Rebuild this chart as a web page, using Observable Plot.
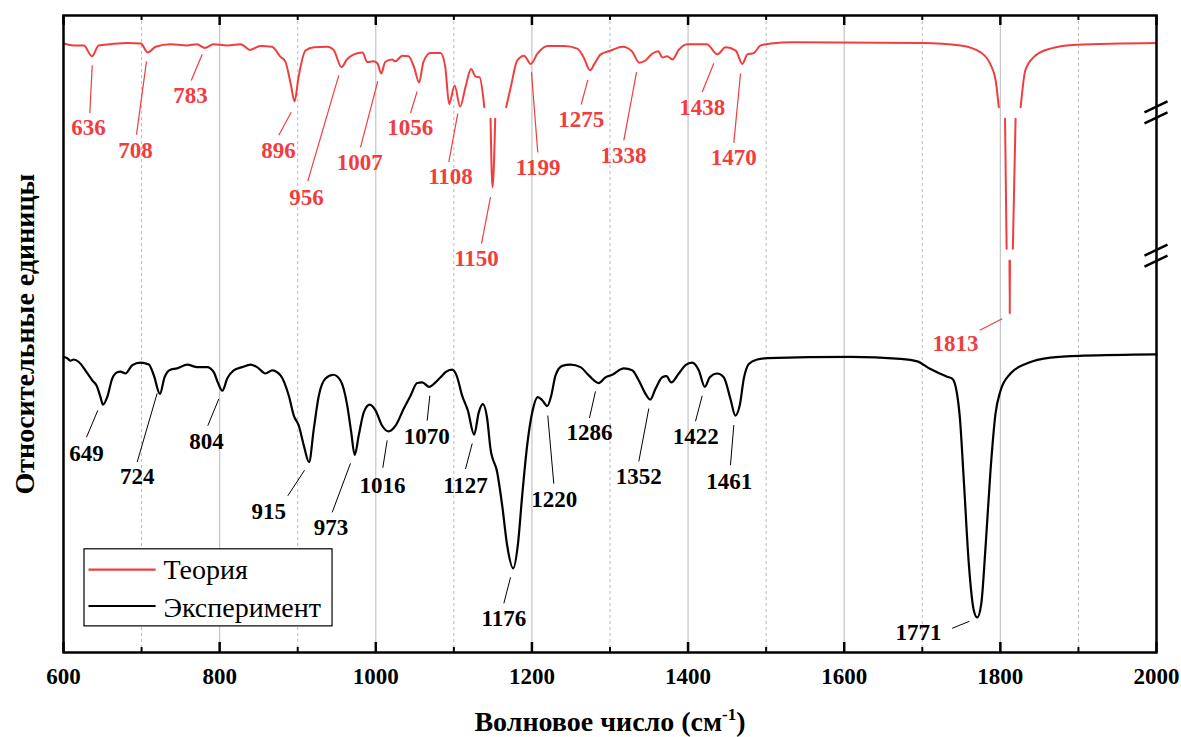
<!DOCTYPE html>
<html>
<head>
<meta charset="utf-8">
<script src="https://cdn.jsdelivr.net/npm/d3@7"></script>
<script src="https://cdn.jsdelivr.net/npm/@observablehq/plot@0.6"></script>
<style>
  html, body { margin: 0; padding: 0; background: #fff; }
  #chart { width: 1181px; height: 737px; }
  #chart svg, #chart svg text { font-family: "Liberation Serif", "Times New Roman", serif !important; }
</style>
</head>
<body>
<div id="chart"></div>
<script>
// ---------------- DATA ----------------
const seriesNames = ["Теория", "Эксперимент"];
const xTitle = "Волновое число (см-1)";
const yTitle = "Относительные единицы";
const xTickValues = [600, 800, 1000, 1200, 1400, 1600, 1800, 2000];
const xMinorValues = [700, 900, 1100, 1300, 1500, 1700, 1900];

// Theory spectrum (wavenumber, relative units). null = axis-break gap.
const theoryWn = [
  600, 613, 626, 636.5, 645, 660, 682, 699, 708, 718,
  737, 758, 771, 781, 792, 810, 827, 839, 852, 867,
  878, 884, 891, 896, 901, 910, 921, 938, 946, 956,
  963, 972, 983, 989, 997, 1002, 1007, 1012, 1021, 1025,
  1034, 1042, 1049, 1055.5, 1061, 1070, 1083, 1089, 1094, 1101,
  1108, 1115, 1122, 1128, 1133, 1139, 1143, 1147, 1149.5, 1153,
  1160, 1167, 1173, 1181, 1190, 1198.5, 1207, 1220, 1241, 1258,
  1266, 1274.5, 1280, 1288, 1301, 1316, 1328, 1337.5, 1345, 1354,
  1362, 1367, 1373, 1380, 1388, 1399, 1424, 1437.5, 1448, 1461,
  1469.5, 1476, 1484, 1493, 1506, 1535, 1700, 1749, 1775, 1787,
  1794, 1798, 1802, 1806, 1808, 1810, 1811.7, 1812, 1812.3, 1814,
  1816, 1819.5, 1823, 1826, 1832, 1843, 1864, 1898, 2000
];
const theoryVal = [
  95.6, 95.3, 95.3, 93.6, 95.3, 95.5, 95.7, 95.6, 94.2, 95.1,
  95.5, 95.3, 95.5, 94.9, 95.5, 95.3, 95.5, 94.6, 95.2, 95.1,
  93.5, 92.8, 89.3, 86.5, 90.3, 94.5, 95.0, 95.1, 94.6, 91.9,
  93.1, 93.9, 94.2, 92.7, 92.8, 92.5, 90.9, 92.7, 93.1, 92.8,
  93.7, 93.6, 91.9, 89.5, 92.7, 94.1, 94.1, 91.9, 86.1, 89.0,
  85.7, 88.8, 91.6, 90.4, 90.3, 85.6, null, 83.8, 73.0, 83.8,
  null, 85.6, 88.8, 92.9, 93.7, 92.4, 94.0, 95.2, 95.2, 94.8,
  93.5, 91.4, 92.4, 93.9, 94.5, 95.1, 94.4, 92.6, 92.9, 94.0,
  94.4, 93.4, 93.6, 93.1, 94.6, 95.5, 95.5, 93.9, 95.0, 94.5,
  92.4, 93.9, 94.1, 95.3, 95.6, 95.8, 95.7, 95.3, 94.2, 92.4,
  89.8, 85.6, null, 83.8, 63.4, null, 61.5, 53.2, 61.5, null,
  63.4, 83.8, null, 85.6, 91.4, 93.5, 94.8, 95.4, 95.7
];

// Experimental spectrum
const expWn = [
  600, 604.7, 609, 613, 619.6, 628, 637, 642.3, 647.4, 650.5,
  656, 662.4, 668.8, 673, 679.4, 688, 698.6, 709.3, 715.7, 723.5,
  729.4, 737, 745.6, 758.4, 771.3, 784, 792.5, 797.6, 803.5, 809.7,
  818, 829, 839.5, 848, 858.7, 867.3, 878, 888.6, 895, 901.4,
  907.8, 914.5, 920.6, 927, 935.6, 945.5, 954.8, 963.4, 968.5, 973,
  978.2, 984.6, 992.3, 999.6, 1008.2, 1016.5, 1025.3, 1035.9, 1044.5, 1053,
  1059.5, 1068.5, 1076.5, 1083, 1089.3, 1097.9, 1103.4, 1110.7, 1117.9, 1126,
  1131.9, 1137.1, 1142.7, 1146.9, 1155.5, 1161.9, 1168.3, 1176, 1181.9, 1187.5,
  1193.9, 1200.4, 1207.5, 1213.2, 1219.6, 1224.7, 1230.2, 1238.8, 1249.4, 1262.2,
  1272.8, 1285.6, 1294.2, 1302.8, 1317.7, 1328.4, 1336.9, 1345.5, 1351.5, 1358.3,
  1366.9, 1372.4, 1378.4, 1388.1, 1396.7, 1405.3, 1413.7, 1421.5, 1427.8, 1437.3,
  1445.7, 1454.3, 1460.5, 1466.2, 1471.4, 1477.8, 1488.5, 1501.4, 1608, 1672,
  1693.5, 1710.5, 1731.9, 1738.3, 1743.8, 1748.1, 1753.2, 1759.6, 1766, 1770.4,
  1775.5, 1781, 1787.4, 1793.8, 1800.2, 1813, 1834.4, 1864.2, 1906.9, 2000
];
const expVal = [
  46.4, 46.2, 45.8, 46.0, 45.6, 44.3, 42.7, 41.9, 40.1, 38.9,
  40.1, 43.0, 44.0, 44.1, 43.8, 45.1, 45.5, 45.2, 43.5, 40.6,
  43.2, 44.4, 44.6, 45.2, 44.8, 44.8, 44.0, 42.4, 41.1, 43.0,
  44.3, 44.8, 45.2, 44.8, 43.8, 44.3, 43.5, 40.3, 37.2, 35.6,
  32.5, 29.9, 35.1, 40.3, 43.0, 43.6, 42.7, 38.8, 34.6, 31.0,
  34.1, 37.7, 38.9, 38.0, 35.6, 34.7, 35.6, 38.3, 40.3, 42.3,
  42.4, 41.7, 42.4, 43.2, 44.0, 44.4, 43.5, 40.3, 38.0, 34.2,
  37.7, 39.0, 36.7, 32.0, 28.3, 23.1, 16.8, 13.2, 16.8, 24.6,
  32.5, 37.7, 40.1, 39.6, 38.7, 40.3, 43.5, 45.0, 45.2, 44.8,
  43.5, 42.3, 43.2, 43.6, 44.6, 44.3, 42.7, 40.6, 39.7, 41.4,
  43.2, 43.4, 42.4, 43.8, 45.1, 45.5, 44.3, 41.7, 43.2, 43.8,
  43.2, 39.8, 37.2, 38.8, 43.0, 45.3, 46.0, 46.2, 46.4, 46.1,
  45.7, 44.5, 43.3, 43.0, 41.1, 36.9, 27.0, 13.9, 6.6, 5.5,
  7.6, 16.5, 28.6, 37.5, 41.1, 43.8, 45.4, 46.3, 46.6, 46.8
];

// Peak labels
const theoryPeakLabels = [636, 708, 783, 896, 956, 1007, 1056, 1108, 1150, 1199, 1275, 1338, 1438, 1470, 1813];
const expPeakLabels = [649, 724, 804, 915, 973, 1016, 1070, 1127, 1176, 1220, 1286, 1352, 1422, 1461, 1771];

// ---------------- LAYOUT (annotation placement in data units) ----------------
// [textX, textY, leaderX1, leaderY1, leaderX2, leaderY2]
const theoryLabelLayout = [
  [632.0, 81.2, 636.8, 92.2, 633.7, 84.7],
  [692.2, 77.6, 706.3, 92.8, 693.5, 81.3],
  [762.7, 86.2, 777.7, 93.9, 763.6, 89.8],
  [875.4, 77.6, 891.7, 84.8, 875.8, 81.2],
  [911.3, 70.3, 952.6, 90.6, 912.9, 74.0],
  [979.5, 75.8, 1002.6, 89.7, 980.4, 79.3],
  [1044.1, 81.2, 1053.0, 88.1, 1044.5, 84.7],
  [1095.7, 73.5, 1105.0, 84.6, 1093.5, 77.0],
  [1129.0, 60.6, 1146.9, 71.5, 1135.4, 64.2],
  [1207.8, 74.9, 1199.4, 91.1, 1207.5, 78.5],
  [1263.2, 82.5, 1271.6, 89.9, 1263.1, 86.0],
  [1317.3, 76.8, 1334.0, 91.1, 1317.7, 80.4],
  [1418.1, 84.4, 1433.0, 92.5, 1418.1, 88.0],
  [1458.6, 76.5, 1467.2, 90.9, 1458.6, 80.0],
  [1742.5, 47.4, 1802.3, 52.4, 1773.6, 50.6]
];
const expLabelLayout = [
  [629.5, 30.1, 643.9, 38.0, 629.5, 33.8],
  [694.4, 26.5, 720.0, 40.7, 694.4, 29.9],
  [783.2, 32.0, 798.9, 39.8, 784.8, 35.6],
  [863.0, 21.0, 908.7, 28.6, 887.3, 24.6],
  [942.6, 18.4, 967.6, 29.7, 944.2, 22.0],
  [1008.6, 25.1, 1014.6, 33.3, 1009.0, 29.0],
  [1065.3, 32.8, 1069.2, 40.3, 1065.8, 36.4],
  [1114.9, 25.1, 1123.5, 32.8, 1114.9, 28.8],
  [1164.0, 4.2, 1172.6, 11.8, 1164.0, 7.7],
  [1228.7, 22.9, 1220.3, 37.2, 1228.0, 26.5],
  [1273.7, 33.3, 1281.4, 41.0, 1273.7, 36.8],
  [1336.9, 26.5, 1349.7, 38.3, 1336.9, 30.0],
  [1409.9, 32.8, 1418.1, 40.3, 1409.5, 36.3],
  [1452.8, 25.7, 1458.6, 35.7, 1454.3, 29.4],
  [1695.2, 1.9, 1760.5, 4.9, 1738.3, 3.8]
];
const legendLayout = {
  box: {x1: 626.9, x2: 944.6, y1: 4.1, y2: 16.2},
  swatchX: [632, 718], rowY: [13.0, 7.3], textX: 728, textY: [11.5, 5.65]
};
const breakLevels = [84.8, 62.3];

// ---------------- STYLE ----------------
const RED = "#f03e3e";
const BLACK = "#000000";
const FONT = "'Liberation Serif', 'Times New Roman', serif";
const W = 1181, H = 737, mL = 63, mR = 25, mT = 15, mB = 85;
const frameH = H - mT - mB;

const theory = theoryWn.map((w, i) => ({wn: w, v: theoryVal[i]}));
const experiment = expWn.map((w, i) => ({wn: w, v: expVal[i]}));
const tLabels = theoryPeakLabels.map((p, i) => {
  const L = theoryLabelLayout[i];
  return {label: String(p), tx: L[0], ty: L[1], x1: L[2], y1: L[3], x2: L[4], y2: L[5]};
});
const eLabels = expPeakLabels.map((p, i) => {
  const L = expLabelLayout[i];
  return {label: String(p), tx: L[0], ty: L[1], x1: L[2], y1: L[3], x2: L[4], y2: L[5]};
});
const breakStrokes = [];
for (const c of breakLevels) {
  breakStrokes.push({x1: 1984.6, y1: c, x2: 2014.1, y2: c + 1.73});
  breakStrokes.push({x1: 1984.6, y1: c - 1.73, x2: 2014.1, y2: c});
}
const legendRows = seriesNames.map((n, i) => ({
  name: n, color: i === 0 ? RED : BLACK,
  x1: legendLayout.swatchX[0], x2: legendLayout.swatchX[1],
  y: legendLayout.rowY[i], tx: legendLayout.textX, ty: legendLayout.textY[i]
}));

const chart = Plot.plot({
  width: W, height: H,
  marginLeft: mL, marginRight: mR, marginTop: mT, marginBottom: mB,
  x: {domain: [600, 2000], axis: null},
  y: {domain: [0, 100], axis: null},
  style: {fontFamily: FONT, background: "white", color: "black", overflow: "visible"},
  marks: [
    // grid
    Plot.ruleX(xMinorValues, {x: d => d, stroke: "#b8b8b8", strokeWidth: 1, strokeDasharray: "3,3"}),
    Plot.ruleX(xTickValues.slice(1, -1), {x: d => d, stroke: "#c4c4c4", strokeWidth: 1.2}),
    // inward ticks, top and bottom
    Plot.ruleX(xTickValues, {x: d => d, insetBottom: frameH - 10, stroke: BLACK, strokeWidth: 2.5}),
    Plot.ruleX(xTickValues, {x: d => d, insetTop: frameH - 10, stroke: BLACK, strokeWidth: 2.5}),
    Plot.ruleX(xMinorValues, {x: d => d, insetBottom: frameH - 5, stroke: BLACK, strokeWidth: 2}),
    Plot.ruleX(xMinorValues, {x: d => d, insetTop: frameH - 5, stroke: BLACK, strokeWidth: 2}),
    // spectra
    Plot.line(experiment, {x: "wn", y: "v", stroke: BLACK, strokeWidth: 2.2, curve: "monotone-x"}),
    Plot.line(theory, {x: "wn", y: "v", stroke: RED, strokeWidth: 2, curve: "monotone-x"}),
    // peak annotations
    Plot.link(tLabels, {x1: "x1", y1: "y1", x2: "x2", y2: "y2", stroke: RED, strokeWidth: 1.2}),
    Plot.text(tLabels, {x: "tx", y: "ty", text: "label", fill: RED, fontSize: 23, fontWeight: "bold", fontFamily: FONT, lineAnchor: "bottom", textAnchor: "middle"}),
    Plot.link(eLabels, {x1: "x1", y1: "y1", x2: "x2", y2: "y2", stroke: BLACK, strokeWidth: 1}),
    Plot.text(eLabels, {x: "tx", y: "ty", text: "label", fill: BLACK, fontSize: 23, fontWeight: "bold", fontFamily: FONT, lineAnchor: "bottom", textAnchor: "middle"}),
    // frame
    Plot.frame({stroke: BLACK, strokeWidth: 2.5}),
    // axis break marks
    Plot.link(breakStrokes, {x1: "x1", y1: "y1", x2: "x2", y2: "y2", stroke: BLACK, strokeWidth: 2.5}),
    // x axis labels
    Plot.axisX({ticks: xTickValues, tickFormat: "d", tickSize: 0, tickPadding: 15, fontSize: 23, fontWeight: "bold", fontFamily: FONT, label: null}),
    // titles
    Plot.text([xTitle], {text: d => d, frameAnchor: "bottom", dy: 78, lineAnchor: "bottom", textAnchor: "middle", fontSize: 28, fontWeight: "bold", fontFamily: FONT}),
    Plot.text([yTitle], {text: d => d, frameAnchor: "left", dx: -30, rotate: -90, lineAnchor: "bottom", textAnchor: "middle", fontSize: 28, fontWeight: "bold", fontFamily: FONT}),
    // legend
    Plot.rect([legendLayout.box], {x1: "x1", x2: "x2", y1: "y1", y2: "y2", fill: "white", stroke: BLACK, strokeWidth: 1.2}),
    Plot.link(legendRows, {x1: "x1", x2: "x2", y1: "y", y2: "y", stroke: "color", strokeWidth: 2.2}),
    Plot.text(legendRows, {x: "tx", y: "ty", text: "name", textAnchor: "start", lineAnchor: "bottom", fontSize: 28, fontFamily: FONT, fill: BLACK})
  ]
});

document.getElementById("chart").appendChild(chart);

// superscript in the x-axis title
d3.select(chart).selectAll("text").filter(function () { return this.textContent === xTitle; })
  .each(function () {
    const t = d3.select(this);
    t.text(null);
    t.append("tspan").text("Волновое число (см");
    t.append("tspan").attr("dy", -11).attr("font-size", 17).text("-1");
    t.append("tspan").attr("dy", 11).text(")");
  });
</script>
</body>
</html>
